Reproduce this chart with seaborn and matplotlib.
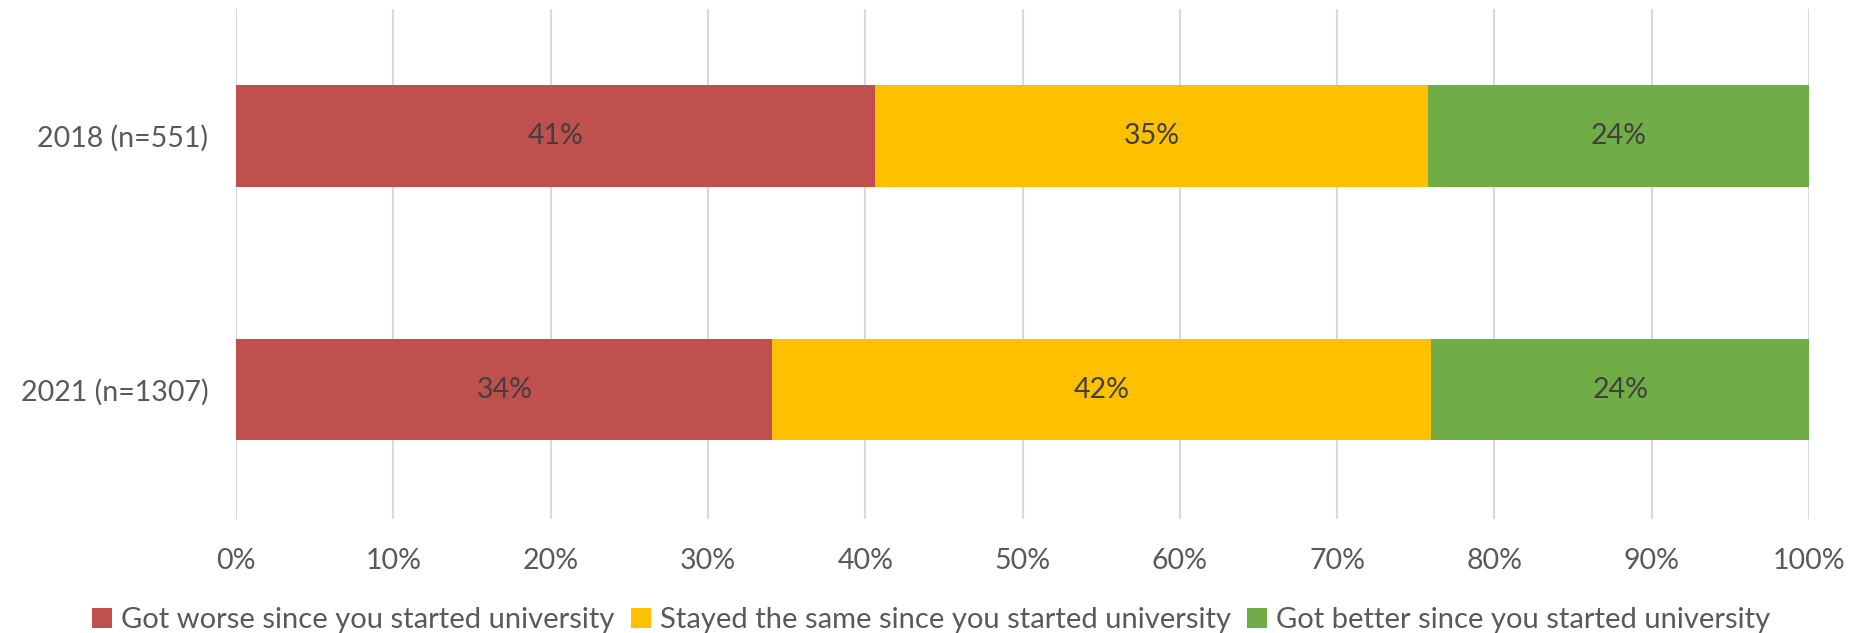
import matplotlib
matplotlib.use("Agg")
import matplotlib.pyplot as plt
import matplotlib.ticker as mticker
from matplotlib.patches import Patch
import numpy as np
import pandas as pd
import seaborn as sns

# Survey responses, share of respondents (%)
groups = ["2018 (n=551)", "2021 (n=1307)"]
series = [
    "Got worse since you started university",
    "Stayed the same since you started university",
    "Got better since you started university",
]
got_worse = [40.6, 34.1]
stayed_same = [35.2, 41.9]
got_better = [24.2, 24.0]
colors = ["#C0504D", "#FFC000", "#70AD47"]
x_ticks = [0, 10, 20, 30, 40, 50, 60, 70, 80, 90, 100]

sns.set_theme(style="white")
plt.rcParams["font.family"] = ["Lato", "DejaVu Sans"]
text_color = "#595959"
label_color = "#404040"
fs = 20.5

values = np.array([got_worse, stayed_same, got_better])
cum = values.cumsum(axis=0)

fig = plt.figure(figsize=(18.62, 6.33), dpi=100)
ax = fig.add_axes([0.1268, 0.180, 0.8447, 0.806])

# Stacked bars: draw the cumulative totals from the outermost segment inward
for i in reversed(range(len(series))):
    df = pd.DataFrame({"group": groups, "value": cum[i]})
    sns.barplot(data=df, x="value", y="group", orient="h", color=colors[i],
                saturation=1, width=0.4, linewidth=0, ax=ax, zorder=2)

# Value labels centred in each segment
for i in range(len(series)):
    for j in range(len(groups)):
        start = cum[i, j] - values[i, j]
        ax.text(start + values[i, j] / 2, j, f"{values[i, j]:.0f}%",
                ha="center", va="center", fontsize=fs, color=label_color, zorder=3)

ax.set_xlim(0, 100)
ax.set_ylim(1.51, -0.5)
ax.set_xticks(x_ticks)
ax.xaxis.set_major_formatter(mticker.FuncFormatter(lambda v, p: f"{v:.0f}%"))
ax.grid(axis="x", color="#D9D9D9", linewidth=1.5, zorder=0)
ax.set_axisbelow(True)
for s in ax.spines.values():
    s.set_visible(False)
ax.tick_params(axis="x", length=0, pad=21, labelsize=fs, labelcolor=text_color)
ax.tick_params(axis="y", length=0, pad=20, labelsize=fs, labelcolor=text_color)
ax.set_xlabel("")
ax.set_ylabel("")

handles = [Patch(facecolor=c, edgecolor="none") for c in colors]
fig.legend(handles, series, loc="center", bbox_to_anchor=(0.5, 0.02), ncol=3,
           frameon=False, fontsize=21, labelcolor=text_color,
           handlelength=0.7, handleheight=0.7, handletextpad=0.3, columnspacing=0.55)

fig.savefig("out.png", dpi=100)
